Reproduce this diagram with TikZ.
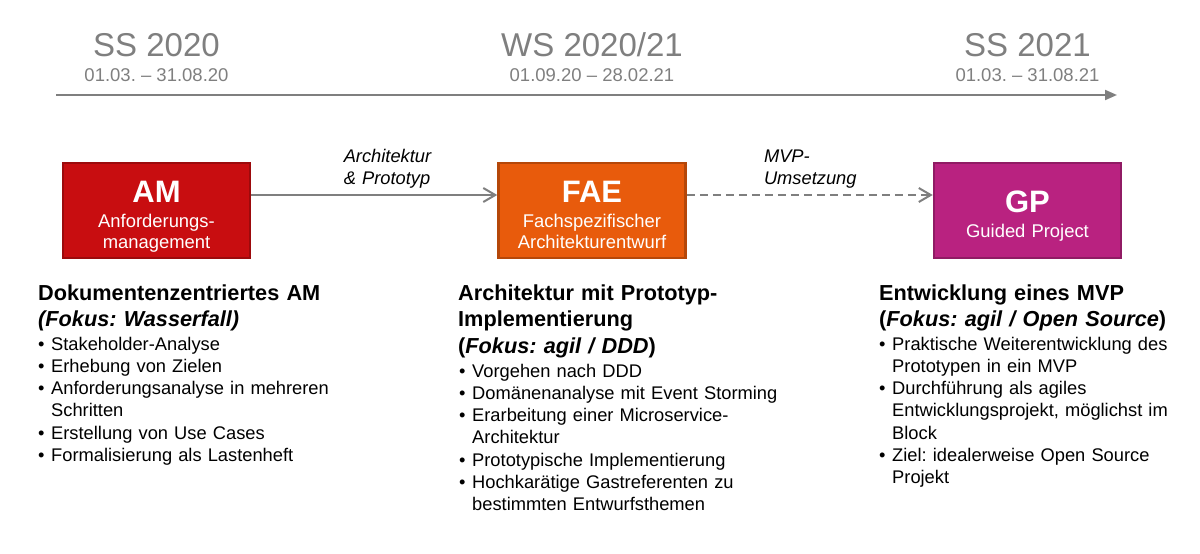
\documentclass[tikz,border=0pt]{standalone}
\usepackage{fontspec}
\setmainfont{Liberation Sans}
\usetikzlibrary{arrows.meta,calc}
\frenchspacing
\hyphenpenalty=10000

\definecolor{semgray}{RGB}{127,127,127}
\definecolor{amred}{RGB}{200,13,16}
\definecolor{faeorange}{RGB}{232,91,12}
\definecolor{gppurple}{RGB}{185,34,128}

\newcommand{\fs}[2]{\fontsize{#1}{#2}\selectfont}
\newcommand{\bul}{\makebox[13pt][l]{\textbullet}}
\newcommand{\ind}{\hspace*{13pt}}

\begin{document}
\begin{tikzpicture}[x=1pt,y=-1pt,
    sem/.style={text=semgray, inner sep=0pt, anchor=base, font=\fs{33}{40}},
    semdate/.style={text=semgray, inner sep=0pt, anchor=base, font=\fs{18.5}{22}},
    phase/.style={minimum width=187pt, minimum height=95pt, line width=2.5pt, inner sep=0pt, fill=#1, draw=#1!78!black},
    boxtitle/.style={text=white, inner sep=0pt, anchor=base, font=\fs{31}{36}\bfseries},
    boxsub/.style={text=white, inner sep=0pt, anchor=base, text width=180pt, align=center, font=\fs{18.4}{21}},
    flow/.style={draw=semgray, line width=2pt, -{Straight Barb[length=12pt,width=14pt]}},
    flowlbl/.style={inner sep=0pt, anchor=south west, text width=110pt, align=left, yshift=6pt, font=\fs{18.3}{22}\itshape},
    head/.style={inner sep=0pt, anchor=base west, text width=300pt, align=left, font=\fs{21.7}{26.5}\bfseries},
    items/.style={inner sep=0pt, anchor=base west, text width=#1, align=left, font=\fs{18.3}{22.3}},
    items/.default=300pt]
    \useasboundingbox (0,0) rectangle (1200,554);

    \coordinate (t0) at (56,95);
    \coordinate (t1) at (1117,95);
    \draw[semgray, line width=2pt, -{Triangle[length=12pt,width=10pt]}] (t0) -- (t1);

    \node[sem] (ss20) at (156.5,56) {SS 2020};
    \node[semdate] (ss20d) at (156.5,81) {01.03. – 31.08.20};
    \node[sem] (ws20) at (592,56) {WS 2020/21};
    \node[semdate] (ws20d) at (592,81) {01.09.20 – 28.02.21};
    \node[sem] (ss21) at (1027.5,56) {SS 2021};
    \node[semdate] (ss21d) at (1027.5,81) {01.03. – 31.08.21};

    \node[phase=amred] (am) at (156.5,210.5) {};
    \node[phase=faeorange] (fae) at (592,210.5) {};
    \node[phase=gppurple] (gp) at (1027.5,210.5) {};

    \node[boxtitle] (amt) at (156.5,202) {AM};
    \node[boxsub] (ams) at (156.5,227) {Anforderungs-\\management};
    \node[boxtitle] (faet) at (592,202) {FAE};
    \node[boxsub] (faes) at (592,227) {Fachspezifischer\\Architekturentwurf};
    \node[boxtitle] (gpt) at (1027.5,212) {GP};
    \node[boxsub] (gps) at (1027.5,237) {Guided Project};

    \draw[flow] ([yshift=15.5pt]am.east) -- node[flowlbl, pos=0.372] (archlbl) {Architektur\\\& Prototyp} ([yshift=15.5pt]fae.west);
    \draw[flow, dash pattern=on 8pt off 5pt] ([yshift=15.5pt]fae.east) -- node[flowlbl, pos=0.31] (mvplbl) {MVP-\\Umsetzung} ([yshift=15.5pt]gp.west);

    \node[head] (amh) at (38,300) {Dokumentenzentriertes AM\\\textit{(Fokus: Wasserfall)}};
    \node[items] (aml) at (38,350) {\bul Stakeholder-Analyse\\\bul Erhebung von Zielen\\\bul Anforderungsanalyse in mehreren\\\ind Schritten\\\bul Erstellung von Use Cases\\\bul Formalisierung als Lastenheft};

    \node[head] (faeh) at (458,300) {Architektur mit Prototyp-\\Implementierung\\(\textit{Fokus: agil / DDD})};
    \node[items=380pt] (fael) at (459,377) {\bul Vorgehen nach DDD\\\bul Domänenanalyse mit Event Storming\\\bul Erarbeitung einer Microservice-\\\ind Architektur\\\bul Prototypische Implementierung\\\bul Hochkarätige Gastreferenten zu\\\ind bestimmten Entwurfsthemen};

    \node[head] (gph) at (879,300) {Entwicklung eines MVP\\(\textit{Fokus: agil / Open Source})};
    \node[items] (gpl) at (879,350) {\bul Praktische Weiterentwicklung des\\\ind Prototypen in ein MVP\\\bul Durchführung als agiles\\\ind Entwicklungsprojekt, möglichst im\\\ind Block\\\bul Ziel: idealerweise Open Source\\\ind Projekt};
\end{tikzpicture}
\end{document}
